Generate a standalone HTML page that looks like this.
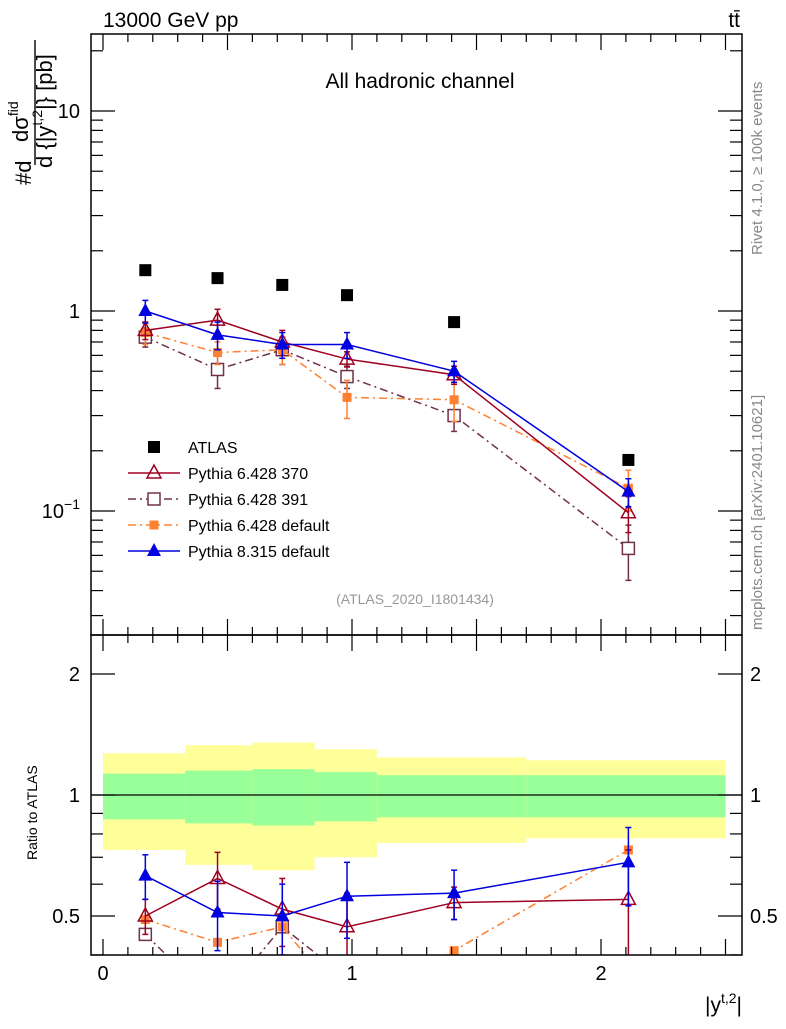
<!DOCTYPE html>
<html><head><meta charset="utf-8"><style>
body{margin:0;background:#fff}
svg{font-family:"Liberation Sans",sans-serif}
</style></head><body>
<svg id="c" width="786" height="1024" xmlns="http://www.w3.org/2000/svg">
<defs>
<clipPath id="cm"><rect x="91" y="34" width="651" height="601"/></clipPath>
<clipPath id="cr"><rect x="91" y="635" width="651" height="320"/></clipPath>
</defs>
<g id="bands" clip-path="url(#cr)"></g>
<g id="marks"></g>
<rect x="91" y="34" width="651" height="601" fill="none" stroke="#000" stroke-width="1.5"/>
<rect x="91" y="635" width="651" height="320" fill="none" stroke="#000" stroke-width="1.5"/>
<g id="axes"></g>
<text x="103" y="27" font-size="21">13000 GeV pp</text>
<text x="740" y="27" font-size="21" text-anchor="end">tt̄</text>
<text x="420" y="88" font-size="21" text-anchor="middle">All hadronic channel</text>
<text x="415" y="604" font-size="14" fill="#999" text-anchor="middle">(ATLAS_2020_I1801434)</text>
<text transform="translate(762,255) rotate(-90)" font-size="15" fill="#888">Rivet 4.1.0, ≥ 100k events</text>
<text transform="translate(762,630) rotate(-90)" font-size="15" fill="#888">mcplots.cern.ch [arXiv:2401.10621]</text>
<g>
<text transform="translate(31,185) rotate(-90)" font-size="22">#d</text>
<text transform="translate(28,142) rotate(-90)" font-size="22">dσ<tspan font-size="14" dy="-10">fid</tspan></text>
<line x1="35" y1="165" x2="35" y2="40" stroke="#000" stroke-width="1.4"/>
<text transform="translate(52,168) rotate(-90)" font-size="22">d {|y<tspan font-size="14" dy="-10">t,2</tspan><tspan dy="10">|} [pb]</tspan></text>
</g>
<text transform="translate(37,860) rotate(-90)" font-size="14">Ratio to ATLAS</text>
<text x="742" y="1012" font-size="21" text-anchor="end">|y<tspan font-size="14" dy="-9">t,2</tspan><tspan dy="9">|</tspan></text>
<g id="legend"></g>
</svg>
<script>
const xs=[0.17,0.46,0.72,0.98,1.41,2.11];
const binEdges=[0,0.33,0.6,0.85,1.1,1.7,2.5];
const atlas=[1.6,1.46,1.35,1.2,0.88,0.18];
const p370=[0.80,0.90,0.70,0.575,0.48,0.098];
const p370err=[0.08,0.12,0.1,0.05,0.05,0.02];
const p391=[0.74,0.51,0.64,0.47,0.30,0.065];
const p391err=[0.08,0.1,0.1,0.06,0.05,0.02];
const pdef=[0.78,0.62,0.64,0.37,0.36,0.13];
const pdeferr=[0.1,0.08,0.1,0.08,0.08,0.03];
const p8=[1.0,0.76,0.68,0.68,0.50,0.125];
const p8err=[0.13,0.12,0.1,0.1,0.06,0.02];
const r370=[0.50,0.62,0.52,0.47,0.54,0.55];
const r370err=[0.05,0.1,0.1,0.1,0.05,0.18];
const r391=[0.45,0.30,0.47,0.35,0.30,0.30];
const rdef=[0.49,0.43,0.47,0.3,0.41,0.73];
const r8=[0.63,0.51,0.50,0.56,0.57,0.68];
const r8err=[0.08,0.1,0.1,0.12,0.08,0.15];
const bandYellow=[0.27,0.33,0.35,0.3,0.24,0.22];
const bandGreen=[0.13,0.15,0.16,0.14,0.12,0.12];
const NS='http://www.w3.org/2000/svg';
const X=v=>103+v*249;
const Y=v=>311-Math.log10(v)*200;
const R=v=>795-Math.log2(v)*121;
function mk(t,a,p){const e=document.createElementNS(NS,t);for(const k in a)e.setAttribute(k,a[k]);(p||document.getElementById('marks')).appendChild(e);return e;}
const bg=document.getElementById('bands');
for(let i=0;i<6;i++){
 const x1=X(binEdges[i]),x2=X(binEdges[i+1]);
 let e=mk('rect',{x:x1,y:R(1+bandYellow[i]),width:x2-x1,height:R(1-bandYellow[i])-R(1+bandYellow[i]),fill:'#ffff99'},bg);
 
 
 e=mk('rect',{x:x1,y:R(1+bandGreen[i]),width:x2-x1,height:R(1-bandGreen[i])-R(1+bandGreen[i]),fill:'#99ff99'},bg);
 
 
}
let ln=mk('line',{x1:91,x2:742,y1:R(1),y2:R(1),stroke:'#000','stroke-width':1.2},bg);


function marker(type,color,x,y,g){
 if(type==='sq')return mk('rect',{x:x-6,y:y-6,width:12,height:12,fill:color},g);
 if(type==='osq')return mk('rect',{x:x-6,y:y-6,width:12,height:12,fill:'#fff',stroke:color,'stroke-width':1.5},g);
 if(type==='fsq')return mk('rect',{x:x-4.5,y:y-4.5,width:9,height:9,fill:color},g);
 if(type==='tri')return mk('polygon',{points:`${x},${y-8} ${x-7},${y+5} ${x+7},${y+5}`,fill:color},g);
 if(type==='otri')return mk('polygon',{points:`${x},${y-8} ${x-7},${y+5} ${x+7},${y+5}`,fill:'none',stroke:color,'stroke-width':1.5},g);
}
function series(name,vals,errs,sy,color,type,dash,clip,noline){
 const g=mk('g',{'clip-path':clip});
 
 
 const pts=xs.map((x,i)=>X(x)+','+sy(vals[i])).join(' ');
 if(!noline)mk('polyline',{points:pts,fill:'none',stroke:color,'stroke-width':1.5,'stroke-dasharray':dash||''},g);
 xs.forEach((x,i)=>{
  if(errs){const lo=Math.max(vals[i]-errs[i],0.01);
   mk('line',{x1:X(x),x2:X(x),y1:sy(vals[i]+errs[i]),y2:sy(lo),stroke:color,'stroke-width':1.5},g);
   mk('line',{x1:X(x)-3,x2:X(x)+3,y1:sy(vals[i]+errs[i]),y2:sy(vals[i]+errs[i]),stroke:color,'stroke-width':1.5},g);
   mk('line',{x1:X(x)-3,x2:X(x)+3,y1:sy(lo),y2:sy(lo),stroke:color,'stroke-width':1.5},g);}
  marker(type,color,X(x),sy(vals[i]),g);
 });
}
const cRed='#a00020',cSq='#70304a',cOr='#ff8030',cBl='#0000e0';
series('atlas-data',atlas,null,Y,'#000','sq','','url(#cm)',true);
series('pythia-6428-391',p391,p391err,Y,cSq,'osq','8 4 2 4','url(#cm)');
series('pythia-6428-default',pdef,pdeferr,Y,cOr,'fsq','8 4 2 4','url(#cm)');
series('pythia-6428-370',p370,p370err,Y,cRed,'otri','','url(#cm)');
series('pythia-8315-default',p8,p8err,Y,cBl,'tri','','url(#cm)');
series('ratio-6428-391',r391,null,R,cSq,'osq','8 4 2 4','url(#cr)');
series('ratio-6428-default',rdef,null,R,cOr,'fsq','8 4 2 4','url(#cr)');
series('ratio-6428-370',r370,r370err,R,cRed,'otri','','url(#cr)');
series('ratio-8315-default',r8,r8err,R,cBl,'tri','','url(#cr)');
const ax=document.getElementById('axes');
function tick(x1,y1,x2,y2){mk('line',{x1,y1,x2,y2,stroke:'#000','stroke-width':1.2},ax);}
for(let v=0;v<=2.55;v+=0.1){const x=X(v),major=Math.abs(v*2-Math.round(v*2))<1e-6,L=major?16:8;
 tick(x,34,x,34+L);tick(x,635,x,635-L);tick(x,635,x,635+L);tick(x,955,x,955-L);}
const xLabels=['0','1','2'];
xLabels.forEach((t,i)=>{const e=mk('text',{x:X(i),y:980,'font-size':20,'text-anchor':'middle'},ax);e.textContent=t;
 
 });
for(let d=-2;d<=1;d++)for(let m=1;m<10;m++){const v=m*Math.pow(10,d),y=Y(v);if(y<34||y>635)continue;const L=m===1?24:12;
 tick(91,y,91+L,y);tick(742,y,742-L,y);}
const yLabels=[['10',10],['1',1]];
yLabels.forEach(([t,v])=>{const e=mk('text',{x:80,y:Y(v)+7,'font-size':20,'text-anchor':'end'},ax);e.textContent=t;
 
 });
let e10=mk('text',{x:80,y:Y(0.1)+7,'font-size':20,'text-anchor':'end'},ax);e10.innerHTML='10<tspan font-size="14" dy="-9">−1</tspan>';


[0.4,0.5,0.6,0.7,0.8,0.9,1,2].forEach(v=>{const y=R(v);const L=(v===0.5||v===1||v===2)?24:12;tick(91,y,91+L,y);tick(742,y,742-L,y);});
const rLabels=[['2',2],['1',1],['0.5',0.5]];
rLabels.forEach(([t,v])=>{let e=mk('text',{x:80,y:R(v)+7,'font-size':20,'text-anchor':'end'},ax);e.textContent=t;
 
 
 e=mk('text',{x:750,y:R(v)+7,'font-size':20},ax);e.textContent=t;
 
 });
const lg=document.getElementById('legend');
const leg=[['ATLAS','#000','sq',null],['Pythia 6.428 370',cRed,'otri',''],['Pythia 6.428 391',cSq,'osq','8 4 2 4'],['Pythia 6.428 default',cOr,'fsq','8 4 2 4'],['Pythia 8.315 default',cBl,'tri','']];
leg.forEach(([t,c,ty,d],i)=>{const y=447+i*26;const g=mk('g',{},lg);
 
 
 if(d!==null)mk('line',{x1:128,x2:180,y1:y,y2:y,stroke:c,'stroke-width':1.5,'stroke-dasharray':d},g);
 marker(ty,c,154,y,g);
 const tx=mk('text',{x:188,y:y+6,'font-size':16},g);tx.textContent=t;});
</script>
</body></html>
